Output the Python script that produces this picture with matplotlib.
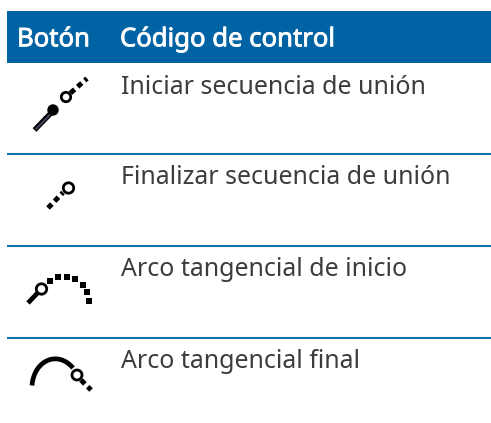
import matplotlib
matplotlib.use("Agg")
import matplotlib.pyplot as plt
import matplotlib.patheffects as pe
from matplotlib.patches import Rectangle, Circle, PathPatch
from matplotlib.path import Path

W, H = 491, 423
headers = ["Botón", "Código de control"]
rows = ["Iniciar secuencia de unión", "Finalizar secuencia de unión",
        "Arco tangencial de inicio", "Arco tangencial final"]
row_base_y = [93.5, 184.5, 276.5, 368.5]
rule_y = [154, 246.5, 338]
BLUE = "#0063a3"
RULE = "#1170ad"
TXT = "#3c3c40"
K = "#000000"

fig = plt.figure(figsize=(W/100, H/100), dpi=100, facecolor="white")
ax = fig.add_axes([0, 0, 1, 1])
ax.set_xlim(0, W); ax.set_ylim(H, 0); ax.axis("off")
FS = 17.95
HFS = 18.5
bold = [pe.withStroke(linewidth=0.6, foreground="white")]

ax.add_patch(Rectangle((7, 11), 484, 52.5, fc=BLUE, ec="none"))
ax.text(17, 46.3, headers[0], color="white", fontsize=HFS, va="baseline", family="Noto Sans", path_effects=bold)
ax.text(120, 46.3, headers[1], color="white", fontsize=HFS, va="baseline", family="Noto Sans", path_effects=bold)
for t, y in zip(rows, row_base_y):
    ax.text(121, y, t, color=TXT, fontsize=FS, va="baseline", family="Noto Sans")
for y in rule_y:
    ax.plot([7, 491], [y, y], color=RULE, lw=1.5, solid_capstyle="butt")

def solid(x, y, lw=3.4, c=K):
    ax.plot(x, y, color=c, lw=lw, solid_capstyle="butt")
def dashes(x, y, lw=3.6):
    ax.plot(x, y, color=K, lw=lw, linestyle=(0, (1.1, 0.8)), dash_capstyle="butt")
def ring(x, y, r, fc="white", lw=2.0):
    ax.add_patch(Circle((x, y), r, fc=fc, ec=K, lw=lw, zorder=3))

# icon 1
solid([34.5, 51], [130, 113], lw=3.8)
solid([35.5, 51], [129.5, 113.5], lw=1.5, c="#45405a")
ring(53, 110, 5.0, fc=K, lw=1)
dashes([70.5, 87], [93, 78.5])
ring(66, 97, 4.7)
# icon 2
dashes([48, 63], [208, 192.5])
ring(68.5, 188, 5.2)
# icon 3
solid([28, 38], [303, 292.5])
ring(41.5, 289, 5.2)
ax.scatter([50, 58, 67, 75, 83, 87, 89], [281, 277, 277, 279, 285, 292, 301],
           marker="s", s=16, c=K, lw=0)
# icon 4
ax.add_patch(PathPatch(Path([(32, 385.5), (34, 360), (58, 350), (73, 368)],
                            [Path.MOVETO, Path.CURVE4, Path.CURVE4, Path.CURVE4]),
                       fc="none", ec=K, lw=3.4, capstyle="butt"))
dashes([81, 91], [380, 390])
ring(77, 375, 5.0)

fig.savefig("out.png", dpi=100, facecolor="white")
